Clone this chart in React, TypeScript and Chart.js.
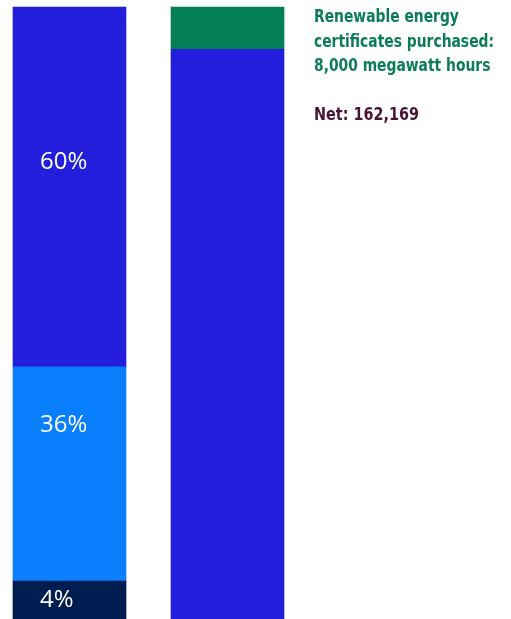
import { useEffect, useMemo, useRef } from "react";
import { Chart, registerables } from "chart.js";

Chart.register(...registerables);

// ---- data (bar heights as share of full bar height) ----
const categories = ["Energy sources", "Megawatt hours"];
const darkShare = [6.2, null];
const lightShare = [35.0, null];
const blueShare = [58.8, null];
const netMwh = [null, 93.1];
const recMwh = [null, 6.9];
const shareLabels = ["4%", "36%", "60%"];
const recText = ["Renewable energy", "certificates purchased:", "8,000 megawatt hours"];
const netText = "Net: 162,169";

// ---- style ----
const NAVY = "#001d52";
const LIGHT = "#0a7ffd";
const BLUE = "#231edb";
const GREEN = "#047e56";
const GREEN_TEXT = "#0b7d55";
const MAROON = "#4b1234";
const LABEL_FRAC = [0.5, 0.27, 0.43]; // vertical position of label inside its segment (from top)
const TEXT_FAMILY = "'DejaVu Sans Condensed', 'Liberation Sans Narrow', sans-serif";
const TEXT_SIZE = 18;
const REC_WIDTH = 180; // target width of widest line
const NET_WIDTH = 105;

const labelPlugin = {
  id: "segmentLabels",
  afterDatasetsDraw(chart: any) {
    const ctx = chart.ctx;
    ctx.save();
    ctx.fillStyle = "#ffffff";
    ctx.font = "400 24px 'Open Sans'";
    ctx.textAlign = "left";
    ctx.textBaseline = "middle";
    for (let i = 0; i < shareLabels.length; i++) {
      const meta = chart.getDatasetMeta(i);
      const el: any = meta.data[0];
      if (!el) continue;
      const top = Math.min(el.y, el.base);
      const h = Math.abs(el.base - el.y);
      const x = el.x - el.width / 2 + 27;
      const y = top + h * LABEL_FRAC[i];
      ctx.fillText(shareLabels[i], x, y);
    }
    ctx.restore();
  },
};

function measureMax(lines: string[]) {
  const c = document.createElement("canvas");
  const ctx = c.getContext("2d");
  if (!ctx) return 0;
  ctx.font = `700 ${TEXT_SIZE}px ${TEXT_FAMILY}`;
  return Math.max(...lines.map((l) => ctx.measureText(l).width));
}

export default function App() {
  const ref = useRef<HTMLCanvasElement>(null);

  const scales = useMemo(() => {
    const a = measureMax(recText);
    const b = measureMax([netText]);
    return { rec: a > 0 ? REC_WIDTH / a : 0.85, net: b > 0 ? NET_WIDTH / b : 0.89 };
  }, []);

  useEffect(() => {
    if (!ref.current) return;
    const common = { borderWidth: 0, barThickness: 113, stack: "s", clip: false as any };
    const chart = new Chart(ref.current, {
      type: "bar",
      data: {
        labels: categories,
        datasets: [
          { label: shareLabels[0], data: darkShare, backgroundColor: NAVY, ...common },
          { label: shareLabels[1], data: lightShare, backgroundColor: LIGHT, ...common },
          { label: shareLabels[2], data: blueShare, backgroundColor: BLUE, ...common },
          { label: "Net", data: netMwh, backgroundColor: BLUE, ...common },
          { label: "Renewable energy certificates", data: recMwh, backgroundColor: GREEN, ...common },
        ] as any,
      },
      options: {
        responsive: false,
        animation: false,
        layout: { padding: { left: 69.5, right: 283.5, top: 7, bottom: 0 } },
        scales: {
          x: { stacked: true, display: false, offset: false },
          y: { stacked: true, display: false, min: 0, max: 100 },
        },
        plugins: { legend: { display: false }, tooltip: { enabled: false } },
      },
      plugins: [labelPlugin],
    });
    return () => chart.destroy();
  }, []);

  const textStyle = {
    position: "absolute" as const,
    left: 314,
    fontFamily: TEXT_FAMILY,
    fontWeight: 700,
    fontSize: TEXT_SIZE,
    lineHeight: "24.2px",
    whiteSpace: "nowrap" as const,
    transformOrigin: "0 0",
  };

  return (
    <div style={{ position: "fixed", left: 0, top: 0, width: 511, height: 619, background: "#fff", overflow: "hidden" }}>
      <canvas ref={ref} width={511} height={619} style={{ position: "absolute", left: 0, top: 0 }} />
      <div style={{ ...textStyle, top: 4.4, color: GREEN_TEXT, transform: `scaleX(${scales.rec})` }}>
        {recText.map((t, i) => (
          <div key={i}>{t}</div>
        ))}
      </div>
      <div style={{ ...textStyle, top: 102.4, color: MAROON, transform: `scaleX(${scales.net})` }}>
        {netText}
      </div>
    </div>
  );
}
